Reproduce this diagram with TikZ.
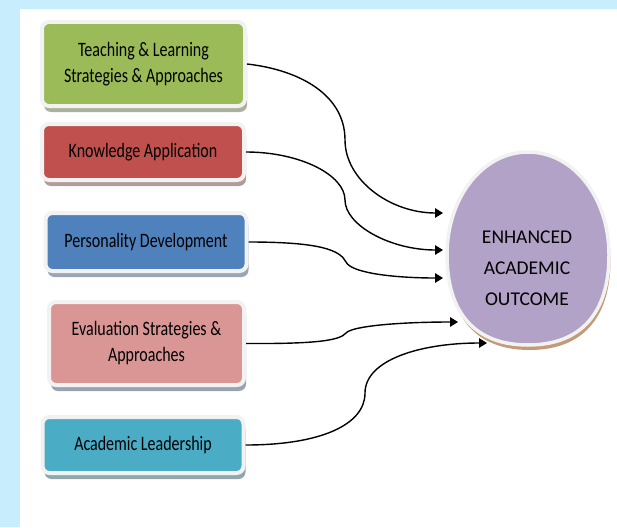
\documentclass[tikz,border=0pt]{standalone}
\usepackage{fontspec}
\setmainfont{Carlito}
\newfontfamily\boxfont[FakeStretch=0.78]{Carlito}
\usetikzlibrary{arrows.meta,shadows}
\definecolor{bgblue}{HTML}{C8EDFC}
\definecolor{cgreen}{HTML}{9BBB59}
\definecolor{cred}{HTML}{C0504D}
\definecolor{cblue}{HTML}{4F81BD}
\definecolor{cpink}{HTML}{D99694}
\definecolor{cteal}{HTML}{4BACC6}
\definecolor{cpurple}{HTML}{B2A2C7}
\definecolor{rim}{HTML}{F2F2F2}
\definecolor{tan}{HTML}{C39B79}
\definecolor{sgreen}{HTML}{A9B29A}
\definecolor{sred}{HTML}{B39B9B}
\definecolor{sblue}{HTML}{9AA6B8}
\definecolor{spink}{HTML}{9AA3B2}
\definecolor{steal}{HTML}{8EA8AE}
\tikzset{
  box/.style={draw=rim, line width=4pt, rounded corners=7pt, align=center,
    font=\boxfont\fontsize{20.5pt}{26pt}\selectfont, text=black, inner sep=0pt},
  boxshadow/.style={drop shadow={shadow xshift=2pt, shadow yshift=-6pt, fill=#1, opacity=1}},
  conn/.style={draw=black, line width=1.4pt, -{Triangle[length=8pt,width=9.5pt]}},
  goal/.style={align=center, font=\fontsize{19.5pt}{31pt}\selectfont, text=black, inner sep=0pt}
}
\begin{document}
\begin{tikzpicture}[x=1pt,y=-1pt]
\useasboundingbox (0,0) rectangle (617,527);
% background frame
\fill[bgblue] (0,0) rectangle (617,527);
\fill[white] (20,9) rectangle (617,527);

% boxes
\node[box, boxshadow=sgreen, fill=cgreen, minimum width=203pt, minimum height=84pt] (t1) at (143.5,64) {Teaching \& Learning\\Strategies \& Approaches};
\node[box, boxshadow=sred, fill=cred, minimum width=202pt, minimum height=56pt] (t2) at (143,152) {Knowledge Application};
\node[box, boxshadow=sblue, fill=cblue, minimum width=201pt, minimum height=58pt] (t3) at (146,242) {Personality Development};
\node[box, boxshadow=spink, fill=cpink, minimum width=195pt, minimum height=83pt] (t4) at (146.5,343.5) {Evaluation Strategies \&\\Approaches};
\node[box, boxshadow=steal, fill=cteal, minimum width=201pt, minimum height=56pt] (t5) at (143,445) {Academic Leadership};

% outcome shape (egg-like ellipse)
\fill[tan, shift={(1.5pt,-5pt)}] (447,255) .. controls (447,197) and (483,152) .. (528,152)
  .. controls (573,152) and (609,197) .. (609,255)
  .. controls (609,313) and (581,345) .. (528,345)
  .. controls (475,345) and (447,313) .. (447,255) -- cycle;
\filldraw[fill=cpurple, draw=rim, line width=3.5pt] (447,255) .. controls (447,197) and (483,152) .. (528,152)
  .. controls (573,152) and (609,197) .. (609,255)
  .. controls (609,313) and (581,345) .. (528,345)
  .. controls (475,345) and (447,313) .. (447,255) -- cycle;
\node[goal] (out) at (527,268) {ENHANCED\\ACADEMIC\\OUTCOME};

% arrow targets on the outcome's border
\coordinate (a1) at (443,213);
\coordinate (a2) at (443,250);
\coordinate (a3) at (443,278);
\coordinate (a4) at (458,322);
\coordinate (a5) at (487,343);

% connectors
\draw[conn] (t1.east) .. controls (300,70) and (345,95) .. (345,140)
  .. controls (345,180) and (390,213) .. (a1);
\draw[conn] (t2.east) .. controls (300,152) and (345,175) .. (345,200)
  .. controls (345,225) and (390,250) .. (a2);
\draw[conn] (t3.east) .. controls (320,242) and (340,250) .. (346,262)
  .. controls (352,274) and (400,278) .. (a3);
\draw[conn] (t4.east) .. controls (320,344) and (340,340) .. (346,333)
  .. controls (352,326) and (400,322) .. (a4);
\draw[conn] (t5.east) .. controls (320,445) and (365,425) .. (365,393)
  .. controls (365,360) and (420,343) .. (a5);
\end{tikzpicture}
\end{document}
